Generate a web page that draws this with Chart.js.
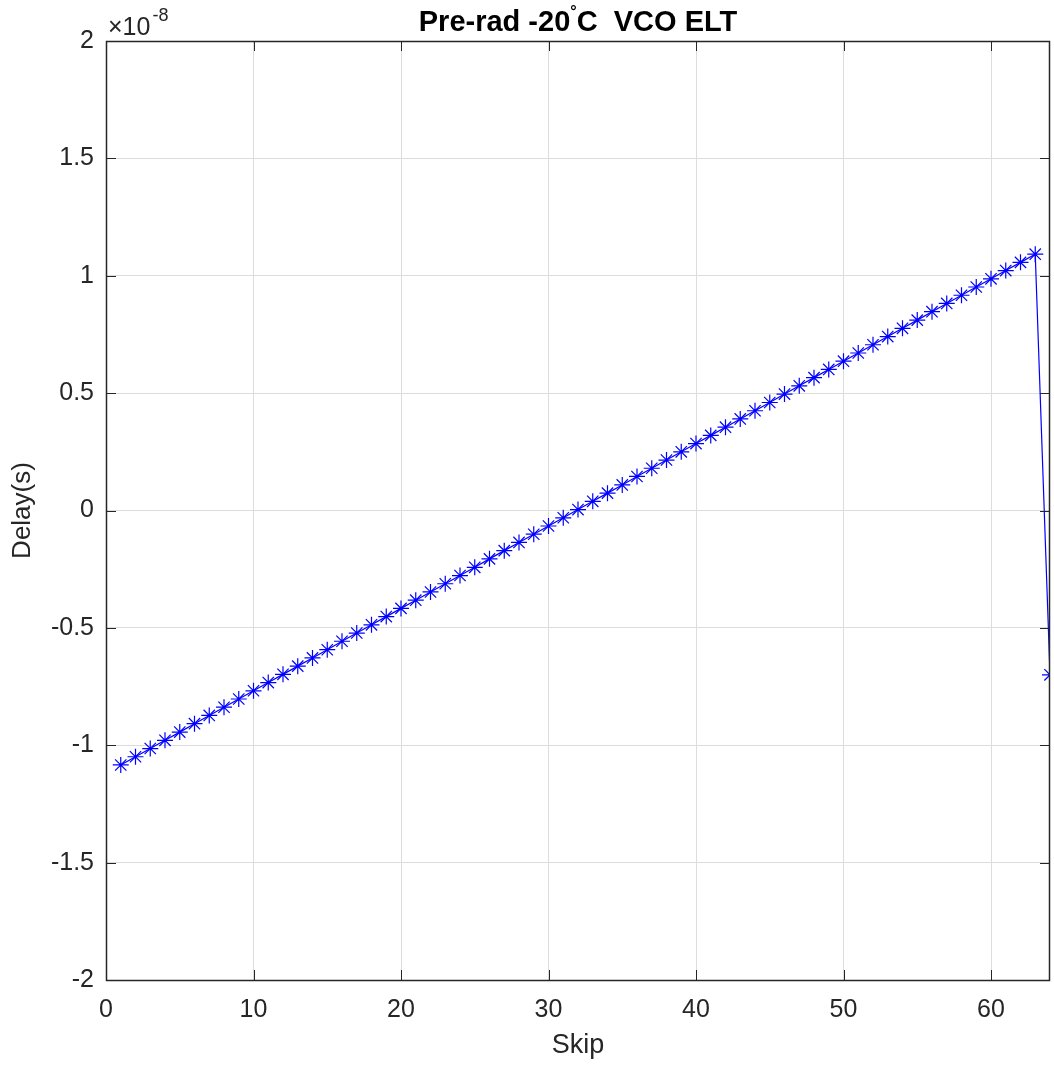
<!DOCTYPE html>
<html>
<head>
<meta charset="utf-8">
<script src="https://cdn.jsdelivr.net/npm/chart.js@4/dist/chart.umd.min.js"></script>
<style>
  html, body { margin: 0; padding: 0; background: #fff; }
  #wrap { width: 1054px; height: 1066px; }
</style>
</head>
<body>
<div id="wrap"><canvas id="chart"></canvas></div>
<script>
// skip index vs delay (units of 1e-8 s)
const skip = [1, 2, 3, 4, 5, 6, 7, 8, 9, 10, 11, 12, 13, 14, 15, 16, 17, 18, 19, 20,
  21, 22, 23, 24, 25, 26, 27, 28, 29, 30, 31, 32, 33, 34, 35, 36, 37, 38, 39, 40,
  41, 42, 43, 44, 45, 46, 47, 48, 49, 50, 51, 52, 53, 54, 55, 56, 57, 58, 59, 60,
  61, 62, 63, 64];
const delay = [-1.084, -1.049, -1.014, -0.979, -0.944, -0.908, -0.873, -0.838, -0.803, -0.768,
  -0.733, -0.698, -0.663, -0.628, -0.593, -0.557, -0.522, -0.487, -0.452, -0.417,
  -0.382, -0.347, -0.312, -0.277, -0.242, -0.206, -0.171, -0.136, -0.101, -0.066,
  -0.031, 0.004, 0.039, 0.074, 0.109, 0.145, 0.180, 0.215, 0.250, 0.285,
  0.320, 0.355, 0.390, 0.425, 0.460, 0.496, 0.531, 0.566, 0.601, 0.636,
  0.671, 0.706, 0.741, 0.776, 0.811, 0.847, 0.882, 0.917, 0.952, 0.987,
  1.022, 1.057, 1.092, -0.700];
const xTicks = [0, 10, 20, 30, 40, 50, 60];
const yTicks = [-2, -1.5, -1, -0.5, 0, 0.5, 1, 1.5, 2];

const FONT = "'Liberation Sans', Arial, Helvetica, sans-serif";
const INK = '#262626';

// box, inward ticks, x labels, title and exponent label, matlab style
const matlabAxes = {
  id: 'matlabAxes',
  afterDraw(chart) {
    const ctx = chart.ctx;
    const a = chart.chartArea;
    const xs = chart.scales.x, ys = chart.scales.y;
    const tl = 10;
    ctx.save();
    ctx.strokeStyle = INK;
    ctx.lineWidth = 1;
    ctx.beginPath();
    xTicks.forEach(v => {
      const px = Math.round(xs.getPixelForValue(v)) + 0.5;
      ctx.moveTo(px, a.bottom); ctx.lineTo(px, a.bottom - tl);
      ctx.moveTo(px, a.top); ctx.lineTo(px, a.top + tl);
    });
    yTicks.forEach(v => {
      const py = Math.round(ys.getPixelForValue(v)) + 0.5;
      ctx.moveTo(a.left, py); ctx.lineTo(a.left + tl, py);
      ctx.moveTo(a.right, py); ctx.lineTo(a.right - tl, py);
    });
    ctx.stroke();
    ctx.lineWidth = 1.5;
    ctx.strokeRect(Math.round(a.left) + 0.5, Math.round(a.top) + 0.5,
      Math.round(a.right - a.left) - 1, Math.round(a.bottom - a.top));

    // x tick labels
    ctx.fillStyle = INK;
    ctx.font = '25px ' + FONT;
    ctx.textAlign = 'center';
    ctx.textBaseline = 'middle';
    xTicks.forEach(v => ctx.fillText(String(v), xs.getPixelForValue(v), a.bottom + 30));

    // exponent
    ctx.textBaseline = 'alphabetic';
    ctx.textAlign = 'left';
    ctx.font = '25px ' + FONT;
    const expX = a.left + 2;
    ctx.fillText('\u00d710', expX, 35);
    const w10 = ctx.measureText('\u00d710').width;
    ctx.font = '18px ' + FONT;
    ctx.fillText('-8', expX + w10 + 2, 21);

    // title with superscript degree
    ctx.fillStyle = '#000';
    const p1 = 'Pre-rad -20', p3 = 'C  VCO ELT';
    ctx.font = 'bold 29px ' + FONT;
    const w1 = ctx.measureText(p1).width, w3 = ctx.measureText(p3).width;
    ctx.font = 'bold 16px ' + FONT;
    const w2 = ctx.measureText('\u00b0').width;
    const total = w1 + w2 + w3;
    let tx = (a.left + a.right) / 2 - total / 2;
    const ty = 31;
    ctx.font = 'bold 29px ' + FONT;
    ctx.fillText(p1, tx, ty);
    ctx.font = 'bold 16px ' + FONT;
    ctx.fillText('\u00b0', tx + w1, ty - 14);
    ctx.font = 'bold 29px ' + FONT;
    ctx.fillText(p3, tx + w1 + w2, ty);
    ctx.restore();
  }
};

new Chart(document.getElementById('chart'), {
  type: 'line',
  data: {
    datasets: [{
      data: skip.map((s, i) => ({ x: s, y: delay[i] })),
      borderColor: '#0000ff',
      backgroundColor: '#0000ff',
      borderWidth: 1.2,
      pointStyle: 'star',
      pointRadius: 8,
      pointBorderWidth: 1.2,
      pointBorderColor: '#0000ff',
      pointHoverBorderColor: '#0000ff',
      tension: 0,
      fill: false
    }]
  },
  options: {
    responsive: true,
    maintainAspectRatio: false,
    animation: false,
    events: [],
    layout: { autoPadding: false, padding: { top: 41, right: 4, left: 0, bottom: 0 } },
    plugins: {
      legend: { display: false },
      tooltip: { enabled: false },
      title: { display: false }
    },
    scales: {
      x: {
        type: 'linear',
        min: 0,
        max: 64,
        afterBuildTicks: s => { s.ticks = xTicks.map(v => ({ value: v })); },
        afterFit: s => { s.height = 86; },
        grid: { color: '#dcdcdc', lineWidth: 1, drawTicks: false },
        border: { display: false },
        ticks: { display: false },
        title: {
          display: true,
          text: 'Skip',
          color: INK,
          font: { family: FONT, size: 27 },
          padding: { top: 0, bottom: 4 }
        }
      },
      y: {
        type: 'linear',
        min: -2,
        max: 2,
        afterBuildTicks: s => { s.ticks = yTicks.map(v => ({ value: v })); },
        afterFit: s => { s.width = 106; },
        grid: { color: '#dcdcdc', lineWidth: 1, drawTicks: false },
        border: { display: false },
        ticks: {
          padding: 12,
          color: INK,
          font: { family: FONT, size: 25 },
          callback: v => String(v)
        },
        title: {
          display: true,
          text: 'Delay(s)',
          color: INK,
          font: { family: FONT, size: 26 },
          padding: { top: 7, bottom: 0 }
        }
      }
    }
  },
  plugins: [matlabAxes]
});
</script>
</body>
</html>
